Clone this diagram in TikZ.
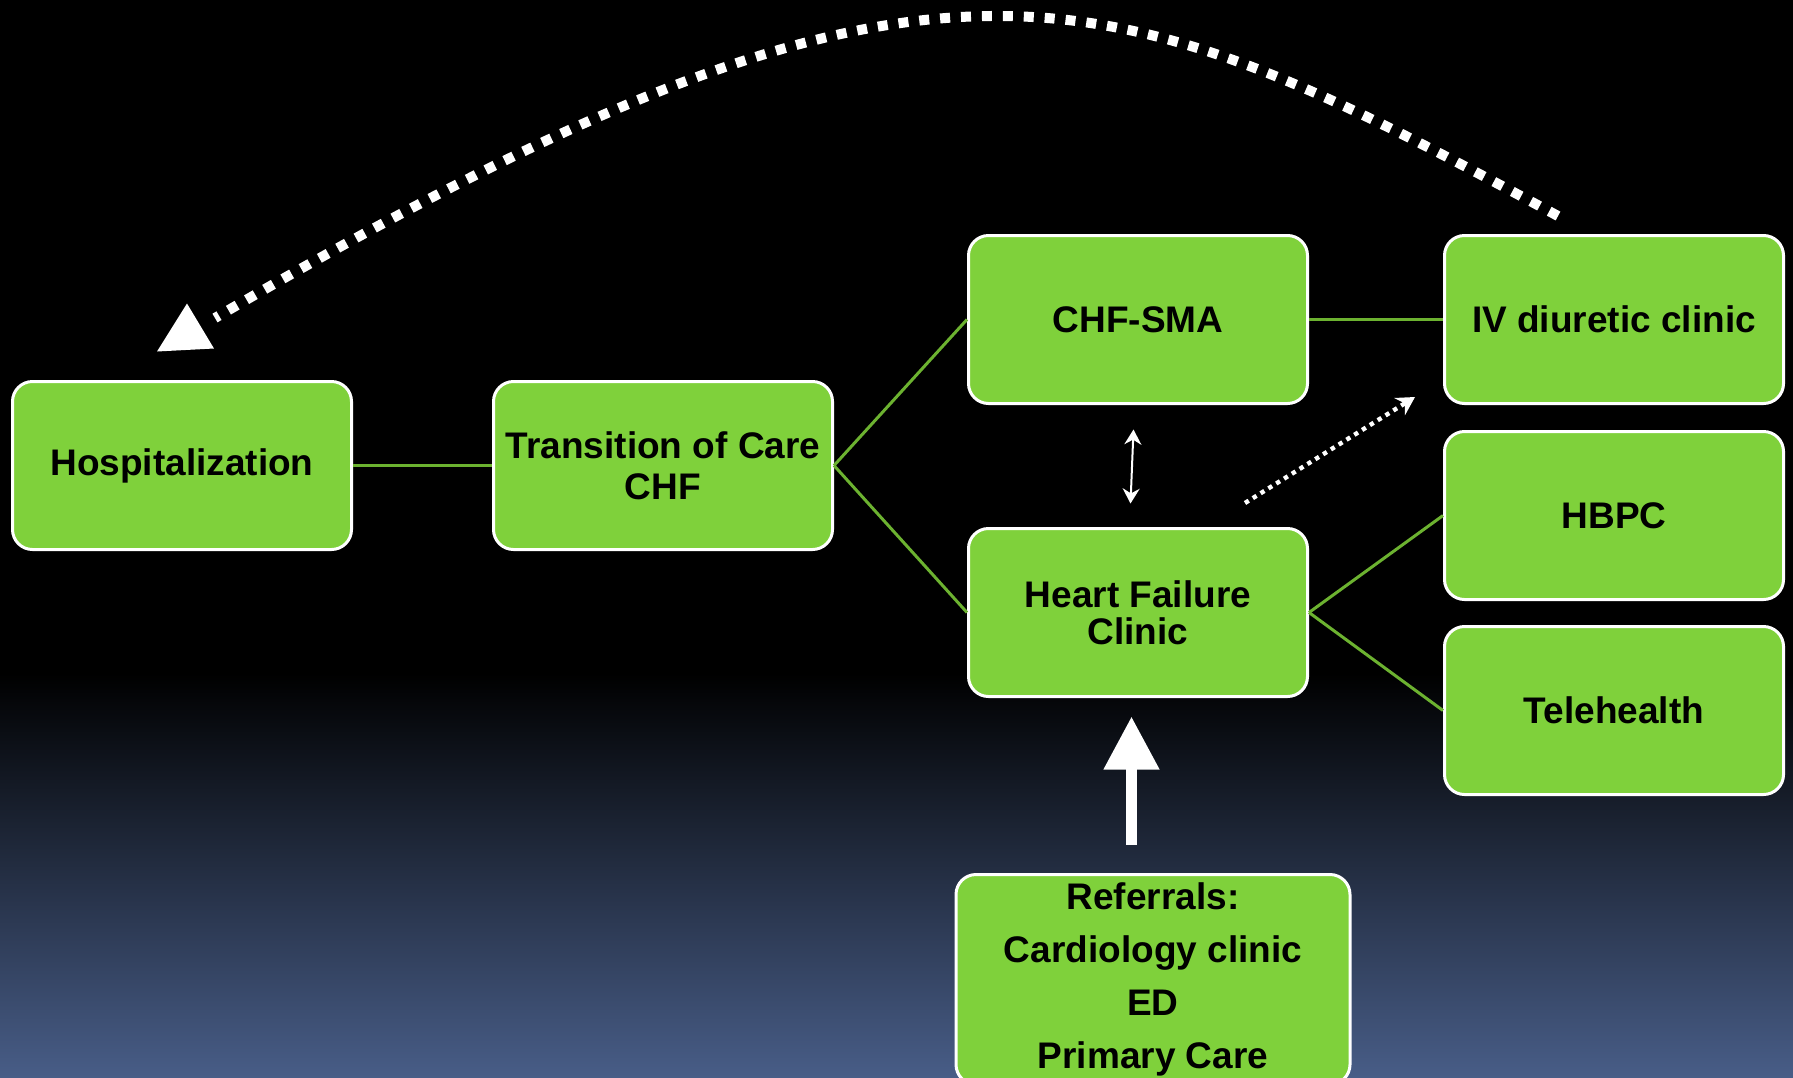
\documentclass[tikz,border=0pt]{standalone}
\usepackage{fontspec}
\setmainfont{Liberation Sans}
\usepackage{tikz}
\usetikzlibrary{positioning,arrows.meta,calc}
\definecolor{BoxGreen}{RGB}{127,209,59}
\definecolor{LinkGreen}{RGB}{108,178,48}
\definecolor{SlideBlue}{RGB}{72,93,135}

\begin{document}
\begin{tikzpicture}[
box/.style={rectangle,rounded corners=10pt,draw=white,line width=1.5pt,fill=BoxGreen,minimum width=169.5pt,minimum height=84pt,inner sep=2pt,align=center,font=\bfseries\fontsize{18.5}{20.5}\selectfont},
conn/.style={draw=LinkGreen,line width=1.5pt},
twoway/.style={{Stealth[length=7.5pt,width=8.5pt]}-{Stealth[length=7.5pt,width=8.5pt]},draw=white,line width=1pt},
dotarrow/.style={-{Stealth[length=9pt,width=10pt,inset=3pt]},draw=white,line width=2.2pt,dash pattern=on 2.2pt off 2.4pt},
backcurve/.style={draw=white,line width=5pt,dash pattern=on 5pt off 5.47pt},
uparrow/.style={-{Triangle[length=26.5pt,width=26.5pt]},draw=white,line width=5.5pt}
]
\fill[black] (0,0) rectangle (896.5pt,-538.5pt);
\shade[top color=black,bottom color=SlideBlue] (0,-336.5pt) rectangle (896.5pt,-538.5pt);
\useasboundingbox (0,0) rectangle (896.5pt,-538.5pt);

\node[box] (hosp) at (91pt,-232.75pt) {Hospitalization};
\node[box,right=69.5pt of hosp] (toc) {Transition of Care\\CHF};
\node[box,right=66.5pt of toc,yshift=73pt] (sma) {CHF-SMA};
\node[box,below=61pt of sma,font=\bfseries\fontsize{18.5}{18.5}\selectfont] (hfc) {Heart Failure\\Clinic};
\node[box,right=67pt of sma] (iv) {IV diuretic clinic};
\node[box,below=12.5pt of iv] (hbpc) {HBPC};
\node[box,below=12pt of hbpc] (tele) {Telehealth};
\node[box,below=87.5pt of hfc,xshift=7.5pt,minimum width=197pt,minimum height=105pt,font=\bfseries\fontsize{18.5}{26.5}\selectfont] (refs) {Referrals:\\Cardiology clinic\\ED\\Primary Care};

\draw[conn] (hosp) -- (toc);
\draw[conn] (toc.east) -- (sma.west);
\draw[conn] (toc.east) -- (hfc.west);
\draw[conn] (sma) -- (iv);
\draw[conn] (hfc.east) -- (hbpc.west);
\draw[conn] (hfc.east) -- (tele.west);

\draw[twoway] ($(sma.south)+(-2.25pt,-12.25pt)$) -- ($(hfc.north)+(-3.75pt,11.75pt)$);
\draw[dotarrow] ($(hfc.north east)+(-32pt,12pt)$) -- ($(iv.south west)+(-14pt,4pt)$);
\draw[uparrow] ($(hfc.south)+(-3.25pt,-73.25pt)$) -- ($(hfc.south)+(-3.25pt,-9.25pt)$);

\coordinate (arcstart) at ($(iv.north west)+(57.5pt,9pt)$);
\coordinate (arcend) at ($(hosp.north)+(16.5pt,31pt)$);
\draw[backcurve] (arcstart) .. controls +(-231pt,124.5pt) and +(359.5pt,210pt) .. (arcend);
\fill[white] ($(hosp.north)+(-12.5pt,14.25pt)$) -- ($(hosp.north)+(2.5pt,38.25pt)$) -- ($(hosp.north)+(16pt,15.75pt)$) -- cycle;
\end{tikzpicture}
\end{document}
